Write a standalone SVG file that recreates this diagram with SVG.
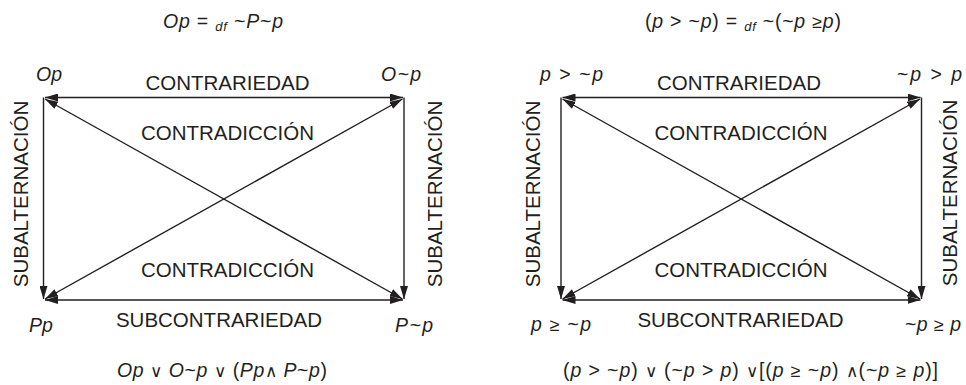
<svg xmlns="http://www.w3.org/2000/svg" width="966" height="385" viewBox="0 0 966 385">
<style>
text{font-family:"Liberation Sans",Arial,sans-serif;fill:#231f20}
.cap{font-size:20.5px}
.f{font-size:19.5px}
.i{font-style:italic}
.sym{font-size:17px}
.ge{font-size:18px}
.ln{stroke:#231f20;stroke-width:1.4;fill:none}
.dbl{marker-start:url(#ah);marker-end:url(#ah)}
.one{marker-end:url(#ah)}
</style>
<defs>
<marker id="ah" viewBox="0 0 13 8" refX="13" refY="4" markerWidth="13" markerHeight="8" markerUnits="userSpaceOnUse" orient="auto-start-reverse">
<path d="M0,0 L13,4 L0,8 z" fill="#231f20"/>
</marker>
</defs>
<rect width="966" height="385" fill="#fff"/>

<g id="connectors">
<line class="ln dbl" x1="45" y1="97.5" x2="403" y2="97.5"/>
<line class="ln dbl" x1="45" y1="300" x2="403" y2="300"/>
<line class="ln one" x1="43.5" y1="97.5" x2="43.5" y2="299"/>
<line class="ln one" x1="404" y1="97.5" x2="404" y2="299"/>
<line class="ln dbl" x1="45" y1="99" x2="402.5" y2="299"/>
<line class="ln dbl" x1="45" y1="299" x2="402.5" y2="99"/>
<line class="ln dbl" x1="562.5" y1="97.5" x2="920.5" y2="97.5"/>
<line class="ln dbl" x1="562.5" y1="300" x2="920.5" y2="300"/>
<line class="ln one" x1="561" y1="97.5" x2="561" y2="299"/>
<line class="ln one" x1="921.5" y1="97.5" x2="921.5" y2="299"/>
<line class="ln dbl" x1="562.5" y1="99" x2="920" y2="299"/>
<line class="ln dbl" x1="562.5" y1="299" x2="920" y2="99"/>
</g>

<g id="left-square-labels">
<text class="cap" x="227.5" y="90" text-anchor="middle">CONTRARIEDAD</text>
<text class="cap" x="227.5" y="140" text-anchor="middle">CONTRADICCIÓN</text>
<text class="cap" x="227.5" y="276.5" text-anchor="middle">CONTRADICCIÓN</text>
<text class="cap" x="219" y="326.5" text-anchor="middle">SUBCONTRARIEDAD</text>
<text class="cap" text-anchor="middle" transform="translate(28.3,194) rotate(-90)">SUBALTERNACIÓN</text>
<text class="cap" text-anchor="middle" transform="translate(441.7,194) rotate(-90)">SUBALTERNACIÓN</text>
</g>

<g id="node-Op"><text class="f i" x="36" y="81">Op</text></g>
<g id="node-Onp"><text class="f i" x="381" y="81" textLength="40" lengthAdjust="spacing">O~p</text></g>
<g id="node-Pp"><text class="f i" x="29" y="331.5">Pp</text></g>
<g id="node-Pnp"><text class="f i" x="395" y="331.5" textLength="38" lengthAdjust="spacing">P~p</text></g>

<g id="right-square-labels">
<text class="cap" x="739" y="90" text-anchor="middle">CONTRARIEDAD</text>
<text class="cap" x="741" y="140" text-anchor="middle">CONTRADICCIÓN</text>
<text class="cap" x="741" y="276.5" text-anchor="middle">CONTRADICCIÓN</text>
<text class="cap" x="740.5" y="326.5" text-anchor="middle">SUBCONTRARIEDAD</text>
<text class="cap" text-anchor="middle" transform="translate(539.7,194) rotate(-90)">SUBALTERNACIÓN</text>
<text class="cap" text-anchor="middle" transform="translate(957,193) rotate(-90)">SUBALTERNACIÓN</text>
</g>

<g id="node-p-gt-np"><text class="f" x="540" y="81" textLength="63" lengthAdjust="spacing"><tspan class="i">p</tspan> &gt; ~<tspan class="i">p</tspan></text></g>
<g id="node-np-gt-p"><text class="f" x="897" y="81" textLength="65" lengthAdjust="spacing">~<tspan class="i">p</tspan> &gt; <tspan class="i">p</tspan></text></g>
<g id="node-p-ge-np"><text class="f" x="531" y="331" textLength="60" lengthAdjust="spacing"><tspan class="i">p</tspan> <tspan class="ge">≥</tspan> ~<tspan class="i">p</tspan></text></g>
<g id="node-np-ge-p"><text class="f" x="905" y="331" textLength="56" lengthAdjust="spacing">~<tspan class="i">p</tspan> <tspan class="ge">≥</tspan> <tspan class="i">p</tspan></text></g>

<g id="titles">
<text class="f" x="163" y="28" textLength="120" lengthAdjust="spacing"><tspan class="i">Op</tspan> = <tspan class="i" font-size="13" dy="3">df</tspan><tspan dy="-3"> ~</tspan><tspan class="i">P</tspan>~<tspan class="i">p</tspan></text>
<text class="f" x="645" y="28" textLength="196" lengthAdjust="spacing">(<tspan class="i">p</tspan> &gt; ~<tspan class="i">p</tspan>) = <tspan class="i" font-size="13" dy="3">df</tspan><tspan dy="-3"> ~(~</tspan><tspan class="i">p</tspan> <tspan class="ge">≥</tspan><tspan class="i">p</tspan>)</text>
<text class="f" x="117" y="377" textLength="210" lengthAdjust="spacing"><tspan class="i">Op</tspan> <tspan class="sym">∨</tspan> <tspan class="i">O</tspan>~<tspan class="i">p</tspan> <tspan class="sym">∨</tspan> (<tspan class="i">Pp</tspan><tspan class="sym">∧</tspan> <tspan class="i">P</tspan>~<tspan class="i">p</tspan>)</text>
<text class="f" x="563" y="377" textLength="375" lengthAdjust="spacing">(<tspan class="i">p</tspan> &gt; ~<tspan class="i">p</tspan>) <tspan class="sym">∨</tspan> (~<tspan class="i">p</tspan> &gt; <tspan class="i">p</tspan>) <tspan class="sym">∨</tspan>[(<tspan class="i">p</tspan> <tspan class="ge">≥</tspan> ~<tspan class="i">p</tspan>) <tspan class="sym">∧</tspan>(~<tspan class="i">p</tspan> <tspan class="ge">≥</tspan> <tspan class="i">p</tspan>)]</text>
</g>
</svg>
